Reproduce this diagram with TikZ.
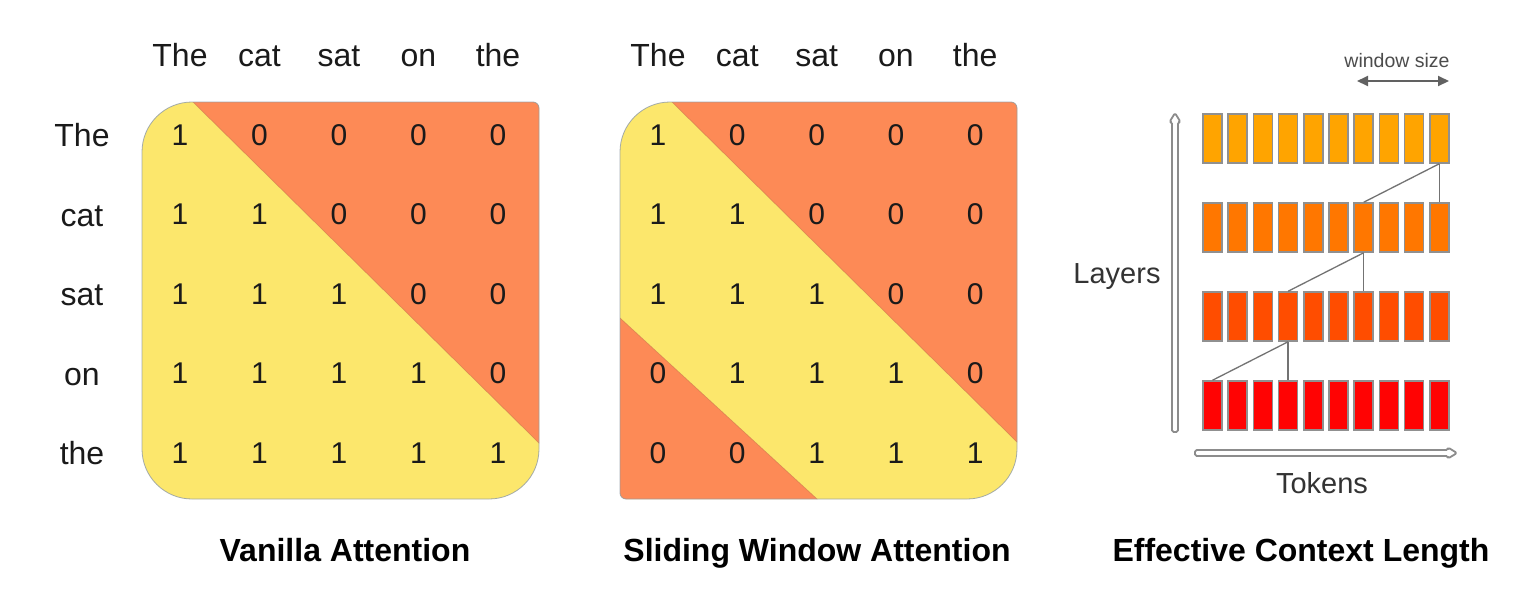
\documentclass[tikz,border=0pt]{standalone}
\usepackage{fontspec}
\setmainfont{Liberation Sans}
\usetikzlibrary{arrows.meta}
\definecolor{myyellow}{HTML}{FCE76C}
\definecolor{myorange}{HTML}{FD8A56}
\definecolor{seam}{HTML}{C97A4E}
\definecolor{outl}{HTML}{8E9AA6}
\definecolor{rowA}{HTML}{FFA400}
\definecolor{rowB}{HTML}{FF7700}
\definecolor{rowC}{HTML}{FF4D00}
\definecolor{rowD}{HTML}{FF0303}
\definecolor{barline}{HTML}{909090}
\definecolor{txt}{HTML}{1A1A1A}
\begin{document}
\begin{tikzpicture}[x=0.5pt,y=-0.5pt,
  lbl/.style={anchor=base,text=txt,font=\fontsize{16}{19}\selectfont,inner sep=0pt},
  num/.style={anchor=base,text=txt,font=\fontsize{15}{18}\selectfont,inner sep=0pt},
  ttl/.style={anchor=base,text=black,font=\fontsize{16}{19}\selectfont\bfseries,inner sep=0pt},
  axl/.style={anchor=base,text={black!80},font=\fontsize{14.5}{17}\selectfont,inner sep=0pt},
  bar/.style={draw=barline,line width=0.75pt,minimum width=9.5pt,minimum height=24.5pt,inner sep=0pt},
  link/.style={draw={black!55},line width=0.65pt},
  holl/.style={draw={black!45},fill=white,line width=0.9pt,line join=round,rounded corners=0.8pt},
  seamline/.style={draw=seam,line width=0.35pt,opacity=0.6},
  frame/.style={draw=outl,line width=0.4pt,opacity=0.8}
]
\fill[white] (0,0) rectangle (1528,612);
\path[use as bounding box] (0,0) rectangle (1528,612);

% ---------------- Vanilla attention ----------------
\fill[myyellow] (192,102) -- (533,102) arc[start angle=270,end angle=360,radius=6] -- (539,449) arc[start angle=0,end angle=90,radius=50] -- (192,499) arc[start angle=90,end angle=180,radius=50] -- (142,152) arc[start angle=180,end angle=270,radius=50] -- cycle;
\begin{scope}
\clip (192,102) -- (533,102) arc[start angle=270,end angle=360,radius=6] -- (539,449) arc[start angle=0,end angle=90,radius=50] -- (192,499) arc[start angle=90,end angle=180,radius=50] -- (142,152) arc[start angle=180,end angle=270,radius=50] -- cycle;
\fill[myorange] (151.5,61.1) -- (580.5,483.9) -- (600,483.9) -- (600,61.1) -- cycle;
\draw[seamline] (151.5,61.1) -- (580.5,483.9);
\end{scope}
\draw[frame] (192,102) -- (533,102) arc[start angle=270,end angle=360,radius=6] -- (539,449) arc[start angle=0,end angle=90,radius=50] -- (192,499) arc[start angle=90,end angle=180,radius=50] -- (142,152) arc[start angle=180,end angle=270,radius=50] -- cycle;

\foreach \w [count=\i from 0] in {The,cat,sat,on,the}{
  \node[lbl] (vc\i) at ({180+79.5*\i},66) {\w};
  \node[lbl] (vr\i) at (82,{146.5+79.5*\i}) {\w};
}
\foreach \r in {1,...,5}{
  \foreach \c in {1,...,5}{
    \pgfmathtruncatemacro{\v}{\c<=\r ? 1 : 0}
    \node[num] (v\r\c) at ({180+79.5*(\c-1)},{145+79.5*(\r-1)}) {\v};
  }
}
\node[ttl] (t1) at (345,561) {Vanilla Attention};

% ---------------- Sliding window attention ----------------
\fill[myyellow] (670,102) -- (1011,102) arc[start angle=270,end angle=360,radius=6] -- (1017,449) arc[start angle=0,end angle=90,radius=50] -- (626,499) arc[start angle=90,end angle=180,radius=6] -- (620,152) arc[start angle=180,end angle=270,radius=50] -- cycle;
\begin{scope}
\clip (670,102) -- (1011,102) arc[start angle=270,end angle=360,radius=6] -- (1017,449) arc[start angle=0,end angle=90,radius=50] -- (626,499) arc[start angle=90,end angle=180,radius=6] -- (620,152) arc[start angle=180,end angle=270,radius=50] -- cycle;
\fill[myorange] (630.6,61.2) -- (1058.4,482.8) -- (1080,482.8) -- (1080,61.2) -- cycle;
\fill[myorange] (590.4,290.8) -- (846.6,526.2) -- (590.4,526.2) -- cycle;
\draw[seamline] (630.6,61.2) -- (1058.4,482.8);
\draw[seamline] (590.4,290.8) -- (846.6,526.2);
\end{scope}
\draw[frame] (670,102) -- (1011,102) arc[start angle=270,end angle=360,radius=6] -- (1017,449) arc[start angle=0,end angle=90,radius=50] -- (626,499) arc[start angle=90,end angle=180,radius=6] -- (620,152) arc[start angle=180,end angle=270,radius=50] -- cycle;

\foreach \w [count=\i from 0] in {The,cat,sat,on,the}{
  \node[lbl] (sc\i) at ({658+79.3*\i},66) {\w};
}
\foreach \r in {1,...,5}{
  \foreach \c in {1,...,5}{
    \pgfmathtruncatemacro{\v}{(\c<=\r) && (\c>=\r-2) ? 1 : 0}
    \node[num] (s\r\c) at ({658+79.3*(\c-1)},{145+79.5*(\r-1)}) {\v};
  }
}
\node[ttl] (t2) at (817,561) {Sliding Window Attention};

% ---------------- Effective context length ----------------
\foreach \r/\col in {1/rowA,2/rowB,3/rowC,4/rowD}{
  \foreach \c in {1,...,10}{
    \node[bar,fill=\col] (b\r c\c) at ({1212.5+25.2*(\c-1)},{138.5+89*(\r-1)}) {};
  }
}
\draw[link] (b1c10.south) -- (b2c7.north);
\draw[link] (b1c10.south) -- (b2c10.north);
\draw[link] (b2c7.south) -- (b3c4.north);
\draw[link] (b2c7.south) -- (b3c7.north);
\draw[link] (b3c4.south) -- (b4c1.north);
\draw[link] (b3c4.south) -- (b4c4.north);

% axes (hollow arrows)
\draw[holl] (1172,432) -- (1172,122) -- (1169.5,122) -- (1175,113) -- (1180.5,122) -- (1178,122) -- (1178,432) -- cycle;
\draw[holl] (1195,450) -- (1448,450) -- (1448,447.5) -- (1457,453) -- (1448,458.5) -- (1448,456) -- (1195,456) -- cycle;
\node[axl] (layers) at (1117,283) {Layers};
\node[axl] (tokens) at (1322,493) {Tokens};

% window size
\node[anchor=base,text={black!70},font=\fontsize{9.75}{12}\selectfont,inner sep=0pt] (ws) at (1397,67) {window size};
\coordinate (wsl) at (1357,81);
\coordinate (wsr) at (1449,81);
\draw[draw={black!62},line width=1pt,{Triangle[length=5.5pt,width=5pt]}-{Triangle[length=5.5pt,width=5pt]}] (wsl) -- (wsr);

\node[ttl] (t3) at (1301,561) {Effective Context Length};
\end{tikzpicture}
\end{document}
